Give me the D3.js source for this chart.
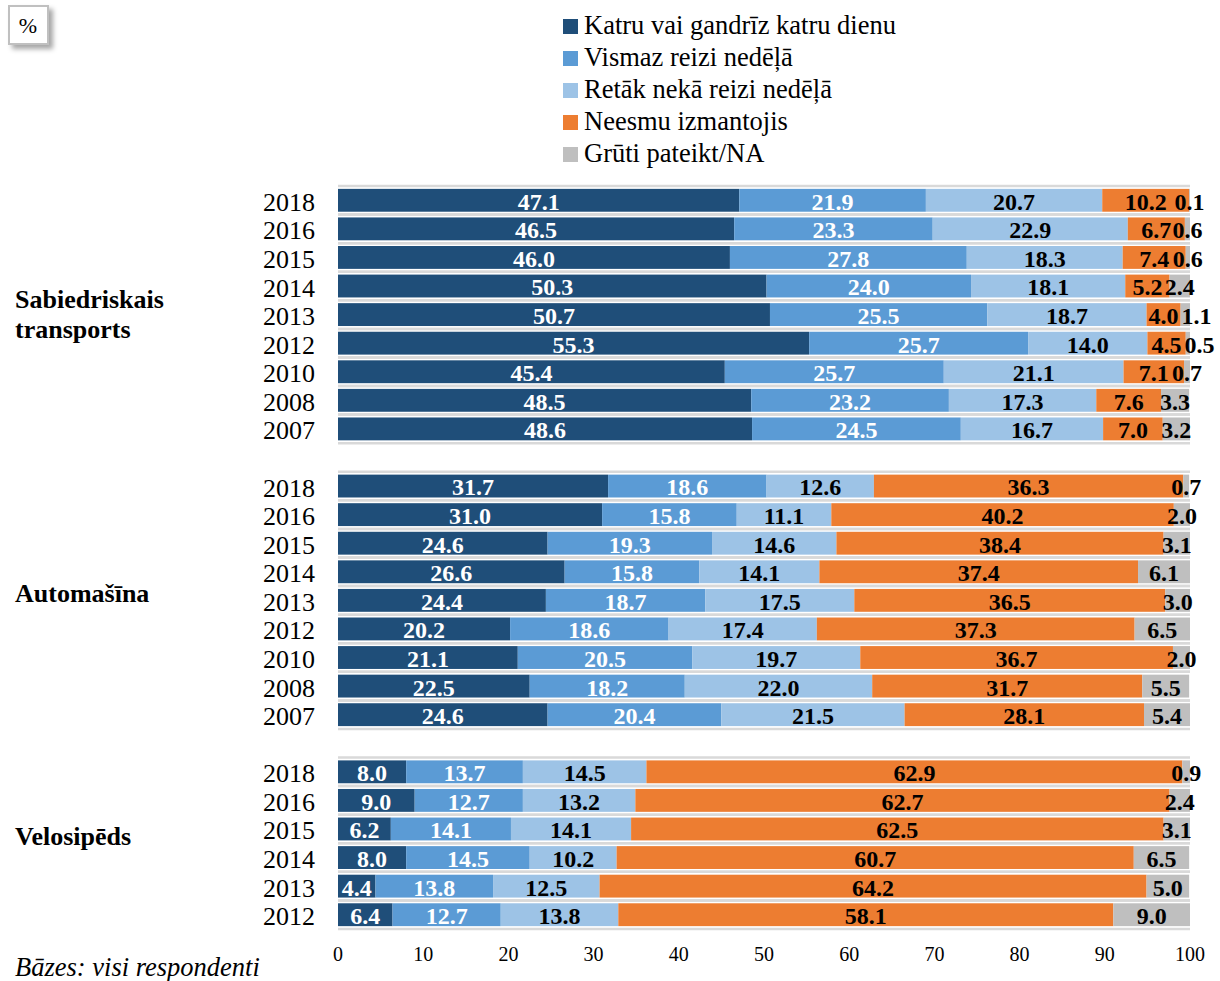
<!DOCTYPE html>
<html>
<head>
<meta charset="utf-8">
<script src="https://cdn.jsdelivr.net/npm/d3@7"></script>
<style>
  html, body { margin: 0; padding: 0; background: #ffffff; }
  svg { display: block; font-family: "Liberation Serif", "Times New Roman", serif; }
</style>
</head>
<body>
<svg id="chart" width="1220" height="981"></svg>
<script>
// Series (legend order)
const seriesNames = [
  "Katru vai gandrīz katru dienu",
  "Vismaz reizi nedēļā",
  "Retāk nekā reizi nedēļā",
  "Neesmu izmantojis",
  "Grūti pateikt/NA"
];
const seriesColors = ["#1f4e79", "#5b9bd5", "#9dc3e6", "#ed7d31", "#bfbfbf"];
const labelColors = ["#ffffff", "#ffffff", "#000000", "#000000", "#000000"];

// Groups
const groupNames = [["Sabiedriskais", "transports"], ["Automašīna"], ["Velosipēds"]];

// Sabiedriskais transports
const ptYears = ["2018", "2016", "2015", "2014", "2013", "2012", "2010", "2008", "2007"];
const ptDaily   = [47.1, 46.5, 46.0, 50.3, 50.7, 55.3, 45.4, 48.5, 48.6];
const ptWeekly  = [21.9, 23.3, 27.8, 24.0, 25.5, 25.7, 25.7, 23.2, 24.5];
const ptRarer   = [20.7, 22.9, 18.3, 18.1, 18.7, 14.0, 21.1, 17.3, 16.7];
const ptNever   = [10.2, 6.7, 7.4, 5.2, 4.0, 4.5, 7.1, 7.6, 7.0];
const ptNA      = [0.1, 0.6, 0.6, 2.4, 1.1, 0.5, 0.7, 3.3, 3.2];

// Automašīna
const carYears = ["2018", "2016", "2015", "2014", "2013", "2012", "2010", "2008", "2007"];
const carDaily  = [31.7, 31.0, 24.6, 26.6, 24.4, 20.2, 21.1, 22.5, 24.6];
const carWeekly = [18.6, 15.8, 19.3, 15.8, 18.7, 18.6, 20.5, 18.2, 20.4];
const carRarer  = [12.6, 11.1, 14.6, 14.1, 17.5, 17.4, 19.7, 22.0, 21.5];
const carNever  = [36.3, 40.2, 38.4, 37.4, 36.5, 37.3, 36.7, 31.7, 28.1];
const carNA     = [0.7, 2.0, 3.1, 6.1, 3.0, 6.5, 2.0, 5.5, 5.4];

// Velosipēds
const bikeYears = ["2018", "2016", "2015", "2014", "2013", "2012"];
const bikeDaily  = [8.0, 9.0, 6.2, 8.0, 4.4, 6.4];
const bikeWeekly = [13.7, 12.7, 14.1, 14.5, 13.8, 12.7];
const bikeRarer  = [14.5, 13.2, 14.1, 10.2, 12.5, 13.8];
const bikeNever  = [62.9, 62.7, 62.5, 60.7, 64.2, 58.1];
const bikeNA     = [0.9, 2.4, 3.1, 6.5, 5.0, 9.0];

const xTicks = [0, 10, 20, 30, 40, 50, 60, 70, 80, 90, 100];

// Build rows: one slot per year, an empty slot between groups
const groups = [
  { years: ptYears, series: [ptDaily, ptWeekly, ptRarer, ptNever, ptNA] },
  { years: carYears, series: [carDaily, carWeekly, carRarer, carNever, carNA] },
  { years: bikeYears, series: [bikeDaily, bikeWeekly, bikeRarer, bikeNever, bikeNA] }
];
const rows = [];
const slots = [];
groups.forEach((g, gi) => {
  if (gi > 0) slots.push("gap" + gi);
  g.years.forEach((yr, i) => {
    const key = gi + "-" + yr;
    slots.push(key);
    rows.push({ key, group: gi, year: yr, values: g.series.map(s => s[i]) });
  });
});

const svg = d3.select("#chart");

const x = d3.scaleLinear().domain([0, 100]).range([338, 1190]);
const y = d3.scaleBand().domain(slots).range([186, 929]).paddingInner(0.2).paddingOuter(0.1);
const step = y.step();
const bandTop = k => y(k) - y.paddingInner() * step / 2;

// Row separator lines
const sep = svg.append("g");
rows.forEach(r => {
  [bandTop(r.key), bandTop(r.key) + step].forEach(yy => {
    sep.append("line")
      .attr("x1", x(0)).attr("x2", x(100))
      .attr("y1", yy).attr("y2", yy)
      .attr("stroke", "#d9d9d9").attr("stroke-width", 2.5);
  });
});

// Stacked segments
const segs = [];
rows.forEach(r => {
  let acc = 0;
  r.values.forEach((v, si) => {
    segs.push({ row: r, si, v, x0: acc, x1: acc + v });
    acc += v;
  });
});

// Label positions: centred in the segment; a narrow last segment's label
// is pushed right so it clears its neighbour's label.
const labelGap = 33;
segs.forEach((d, i) => {
  d.lx = x((d.x0 + Math.min(d.x1, 100)) / 2);
  if (d.si === 4) {
    const prev = segs[i - 1];
    if (d.lx - prev.lx < labelGap - 3) d.lx = prev.lx + labelGap;
  }
});

svg.append("g").selectAll("rect").data(segs).join("rect")
  .attr("x", d => x(d.x0))
  .attr("width", d => Math.max(0, x(Math.min(d.x1, 100)) - x(d.x0)))
  .attr("y", d => y(d.row.key))
  .attr("height", y.bandwidth())
  .attr("fill", d => seriesColors[d.si]);

// Value labels
svg.append("g").selectAll("text").data(segs).join("text")
  .attr("x", d => d.lx)
  .attr("y", d => y(d.row.key) + y.bandwidth() - 2)
  .attr("text-anchor", "middle")
  .attr("font-size", 24)
  .attr("font-weight", "bold")
  .attr("fill", d => labelColors[d.si])
  .text(d => d.v.toFixed(1));

// Year labels
svg.append("g").selectAll("text").data(rows).join("text")
  .attr("x", 315)
  .attr("y", d => y(d.key) + y.bandwidth() / 2 + 10.5)
  .attr("text-anchor", "end")
  .attr("font-size", 26)
  .attr("fill", "#000")
  .text(d => d.year);

// Group labels
groups.forEach((g, gi) => {
  const first = gi + "-" + g.years[0];
  const last = gi + "-" + g.years[g.years.length - 1];
  const mid = (y(first) + y(last) + y.bandwidth()) / 2;
  const lines = groupNames[gi];
  const t = svg.append("text")
    .attr("x", 15)
    .attr("font-size", 26)
    .attr("font-weight", "bold")
    .attr("fill", "#000");
  lines.forEach((ln, li) => {
    const base = lines.length > 1 ? mid + 8 + (li - (lines.length - 1) / 2) * 30 : mid + 2;
    t.append("tspan").attr("x", 15).attr("y", base).text(ln);
  });
});

// X axis tick labels
svg.append("g").selectAll("text").data(xTicks).join("text")
  .attr("x", d => x(d))
  .attr("y", 961)
  .attr("text-anchor", "middle")
  .attr("font-size", 20)
  .attr("fill", "#000")
  .text(d => d);

// Legend
const legend = svg.append("g");
seriesNames.forEach((name, i) => {
  const cy = 26 + i * 32;
  legend.append("rect")
    .attr("x", 563).attr("y", cy - 7).attr("width", 15).attr("height", 15)
    .attr("fill", seriesColors[i]);
  legend.append("text")
    .attr("x", 584).attr("y", cy + 8)
    .attr("font-size", 26.5)
    .attr("fill", "#000")
    .text(name);
});

// Unit box with soft shadow
const defs = svg.append("defs");
const f = defs.append("filter").attr("id", "shadow").attr("x", "-30%").attr("y", "-30%").attr("width", "180%").attr("height", "180%");
f.append("feDropShadow").attr("dx", 4).attr("dy", 4).attr("stdDeviation", 2.5)
  .attr("flood-color", "#000").attr("flood-opacity", 0.35);
svg.append("rect")
  .attr("x", 9).attr("y", 6).attr("width", 39).attr("height", 38)
  .attr("fill", "#fff").attr("stroke", "#c0c0c0").attr("stroke-width", 2)
  .attr("filter", "url(#shadow)");
svg.append("text")
  .attr("x", 28).attr("y", 33)
  .attr("text-anchor", "middle")
  .attr("font-size", 22)
  .attr("fill", "#000")
  .text("%");

// Base note
svg.append("text")
  .attr("x", 15).attr("y", 976)
  .attr("font-size", 26.5)
  .attr("font-style", "italic")
  .attr("fill", "#000")
  .text("Bāzes: visi respondenti");
</script>
</body>
</html>
